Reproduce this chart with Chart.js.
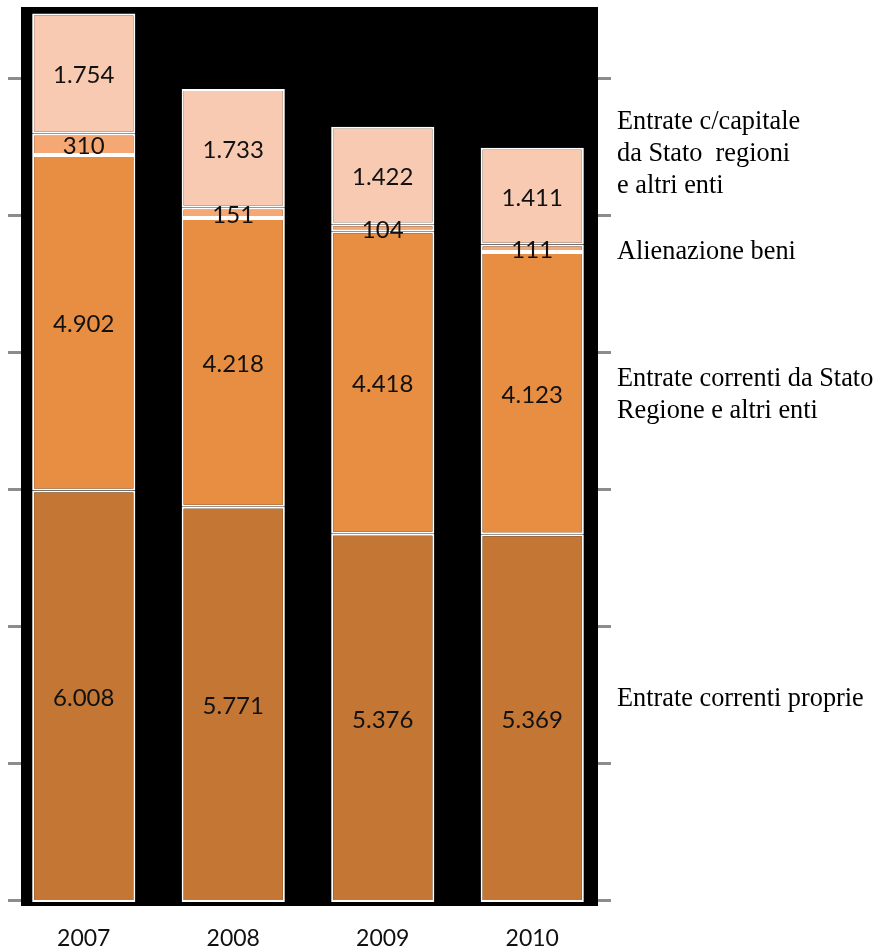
<!DOCTYPE html>
<html>
<head>
<meta charset="utf-8">
<script src="https://cdn.jsdelivr.net/npm/chart.js@4.4.1/dist/chart.umd.min.js"></script>
<style>
    html, body { margin: 0; padding: 0; background: #fff; }
    .wrap { position: relative; width: 879px; height: 947px; }
    canvas { position: absolute; left: 0; top: 0; }
    .side {
        position: absolute;
        left: 617px;
        font-family: "Liberation Serif", "Times New Roman", serif;
        font-size: 26.3px;
        line-height: 32px;
        color: #000;
        white-space: pre;
    }
</style>
</head>
<body>
<div class="wrap">
    <canvas id="chart" width="879" height="947"></canvas>
    <div class="side" style="top: 105px;">Entrate c/capitale
da Stato  regioni
e altri enti</div>
    <div class="side" style="top: 235px;">Alienazione beni</div>
    <div class="side" style="top: 362px;">Entrate correnti da Stato
Regione e altri enti</div>
    <div class="side" style="top: 682px;">Entrate correnti proprie</div>
</div>
<script>
// Data
const years = ['2007', '2008', '2009', '2010'];
const entrateProprie = [6008, 5771, 5376, 5369];
const correntiStato = [4902, 4218, 4418, 4123];
const alienazione = [310, 151, 104, 111];
const capitale = [1754, 1733, 1422, 1411];
const tickValues = [0, 2000, 4000, 6000, 8000, 10000, 12000];

// Italian style thousands: 1754 -> 1.754
function fmt(v) {
    return String(v).replace(/\B(?=(\d{3})+(?!\d))/g, '.');
}

// Black plot area + grey tick marks on both sides
const backdrop = {
    id: 'backdrop',
    beforeDatasetsDraw(chart) {
        const { ctx, chartArea: a, scales } = chart;
        const left = a.left + 12, right = a.right - 9;
        ctx.save();
        ctx.fillStyle = '#000';
        ctx.fillRect(left, a.top, right - left, a.bottom + 4 - a.top);
        ctx.strokeStyle = '#8c8c8c';
        ctx.lineWidth = 3;
        tickValues.forEach(v => {
            const y = Math.round(scales.y.getPixelForValue(v)) - 1.5;
            ctx.beginPath();
            ctx.moveTo(left - 13, y);
            ctx.lineTo(left, y);
            ctx.moveTo(right, y);
            ctx.lineTo(right + 13, y);
            ctx.stroke();
        });
        ctx.restore();
    }
};

// Value labels in the middle of each segment, year labels under the bars
const valueLabels = {
    id: 'valueLabels',
    afterDatasetsDraw(chart) {
        const { ctx, scales, chartArea: a } = chart;
        ctx.save();
        ctx.font = '24px Lato, "Open Sans", sans-serif';
        ctx.fillStyle = '#111';
        ctx.textAlign = 'center';
        ctx.textBaseline = 'middle';
        chart.data.datasets.forEach((ds, i) => {
            chart.getDatasetMeta(i).data.forEach((bar, j) => {
                const y = (bar.y + bar.base) / 2 + 2;
                ctx.fillText(fmt(ds.data[j]), bar.x, y);
            });
        });
        ctx.font = '23px Lato, "Open Sans", sans-serif';
        years.forEach((yr, j) => {
            ctx.fillText(yr, scales.x.getPixelForValue(j), a.bottom + 37);
        });
        ctx.restore();
    }
};

const seg = (label, data, color) => ({
    label: label,
    data: data,
    backgroundColor: color,
    borderColor: '#fff',
    borderWidth: 2,
    borderSkipped: false,
    barPercentage: 0.69,
    categoryPercentage: 1
});

new Chart(document.getElementById('chart'), {
    type: 'bar',
    data: {
        labels: years,
        datasets: [
            seg('Entrate correnti proprie', entrateProprie, '#c47634'),
            seg('Entrate correnti da Stato Regione e altri enti', correntiStato, '#e88e42'),
            seg('Alienazione beni', alienazione, '#f5a874'),
            seg('Entrate c/capitale da Stato regioni e altri enti', capitale, '#f8cab2')
        ]
    },
    options: {
        responsive: false,
        animation: false,
        layout: { padding: { left: 9, right: 272, top: 7, bottom: 45 } },
        plugins: {
            legend: { display: false },
            tooltip: { enabled: false }
        },
        scales: {
            x: {
                stacked: true,
                display: false
            },
            y: {
                stacked: true,
                display: false,
                min: 0,
                max: 13070
            }
        }
    },
    plugins: [backdrop, valueLabels]
});
</script>
</body>
</html>
